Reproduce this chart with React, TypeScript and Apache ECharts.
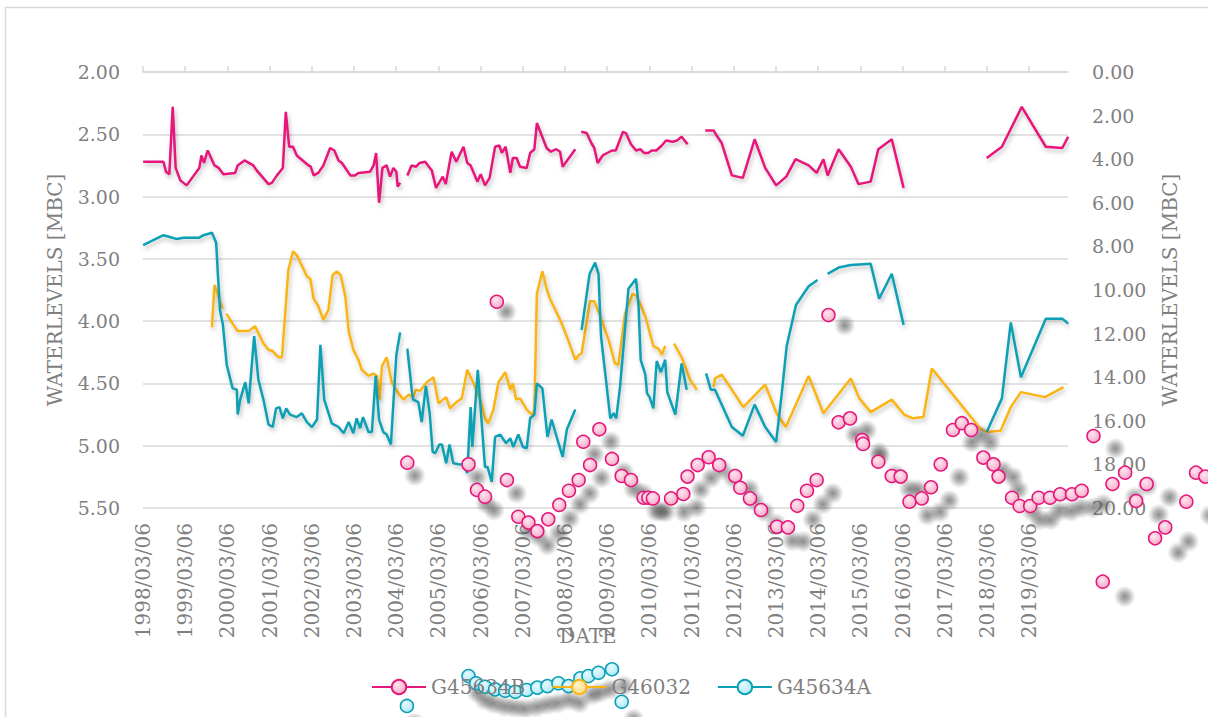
import React, { useEffect, useRef } from 'react';
import * as echarts from 'echarts';

// 1998/03/06 expressed as a decimal year; the x axis counts years from here.
const START = 1998.176;

const TICK_YEARS = [
  1998, 1999, 2000, 2001, 2002, 2003, 2004, 2005, 2006, 2007, 2008,
  2009, 2010, 2011, 2012, 2013, 2014, 2015, 2016, 2017, 2018, 2019,
];

// Water levels [m BC] per decimal year; null marks a break in the record.
const G45634B: [number, number | null][] = [
  [1998.18, 2.72], [1998.66, 2.72], [1998.72, 2.80], [1998.80, 2.82], [1998.88, 2.28], [1998.95, 2.77],
  [1999.06, 2.87], [1999.21, 2.91], [1999.51, 2.77], [1999.56, 2.67], [1999.62, 2.73], [1999.71, 2.63],
  [1999.87, 2.75], [1999.97, 2.77], [2000.08, 2.82], [2000.36, 2.81], [2000.42, 2.75], [2000.58, 2.71],
  [2000.79, 2.75], [2000.87, 2.79], [2001.15, 2.90], [2001.23, 2.89], [2001.35, 2.83], [2001.49, 2.77],
  [2001.56, 2.32], [2001.64, 2.60], [2001.73, 2.60], [2001.82, 2.67], [2002.10, 2.75], [2002.15, 2.76],
  [2002.22, 2.83], [2002.33, 2.81], [2002.45, 2.75], [2002.61, 2.61], [2002.71, 2.63], [2002.81, 2.71],
  [2002.89, 2.73], [2003.09, 2.83], [2003.20, 2.83], [2003.28, 2.81], [2003.56, 2.80], [2003.64, 2.75],
  [2003.70, 2.65], [2003.77, 3.05], [2003.85, 2.77], [2003.95, 2.75], [2004.03, 2.84], [2004.11, 2.77],
  [2004.18, 2.80], [2004.21, 2.92], [2004.27, 2.89], [2004.35, null],
  [2004.44, 2.83], [2004.54, 2.75], [2004.65, 2.76], [2004.73, 2.73], [2004.86, 2.72], [2005.02, 2.79],
  [2005.12, 2.93], [2005.28, 2.84], [2005.35, 2.90], [2005.49, 2.64], [2005.60, 2.72], [2005.77, 2.60],
  [2005.86, 2.73], [2005.94, 2.75], [2006.10, 2.88], [2006.18, 2.82], [2006.28, 2.91], [2006.39, 2.85],
  [2006.52, 2.60], [2006.62, 2.59], [2006.68, 2.65], [2006.77, 2.60], [2006.88, 2.81], [2006.94, 2.69],
  [2007.03, 2.69], [2007.11, 2.76], [2007.27, 2.77], [2007.35, 2.65], [2007.45, 2.62], [2007.51, 2.41],
  [2007.74, 2.61], [2007.84, 2.64], [2007.97, 2.62], [2008.06, 2.64], [2008.12, 2.76], [2008.42, 2.62],
  [2008.49, null],
  [2008.56, 2.48], [2008.69, 2.49], [2008.80, 2.57], [2008.87, 2.61], [2008.95, 2.73], [2009.07, 2.67],
  [2009.29, 2.63], [2009.38, 2.63], [2009.55, 2.48], [2009.62, 2.49], [2009.74, 2.58], [2009.86, 2.63],
  [2009.96, 2.62], [2010.05, 2.65], [2010.15, 2.65], [2010.23, 2.63], [2010.34, 2.63], [2010.47, 2.59],
  [2010.57, 2.55], [2010.73, 2.56], [2010.83, 2.55], [2010.94, 2.52], [2011.08, 2.58], [2011.20, null],
  [2011.50, 2.47], [2011.70, 2.47], [2011.77, 2.51], [2011.89, 2.57], [2012.13, 2.83], [2012.39, 2.85],
  [2012.67, 2.54], [2012.92, 2.77], [2013.18, 2.91], [2013.42, 2.84], [2013.64, 2.70], [2013.95, 2.75],
  [2014.14, 2.81], [2014.30, 2.70], [2014.40, 2.83], [2014.66, 2.62], [2014.95, 2.76], [2015.13, 2.90],
  [2015.42, 2.88], [2015.60, 2.62], [2015.92, 2.54], [2016.20, 2.93], [2017.00, null],
  [2018.17, 2.69], [2018.53, 2.60], [2019.00, 2.28], [2019.57, 2.60], [2019.96, 2.61], [2020.10, 2.52],
];

const G46032: [number, number | null][] = [
  [1999.81, 4.05], [1999.87, 3.71], [2000.06, 3.90], [2000.10, null],
  [2000.15, 3.94], [2000.32, 4.03], [2000.42, 4.08], [2000.68, 4.08], [2000.83, 4.04], [2001.03, 4.18],
  [2001.15, 4.23], [2001.25, 4.24], [2001.39, 4.29], [2001.47, 4.29], [2001.62, 3.59], [2001.73, 3.44],
  [2001.82, 3.47], [2002.06, 3.64], [2002.14, 3.66], [2002.22, 3.82], [2002.33, 3.88], [2002.45, 3.99],
  [2002.57, 3.91], [2002.67, 3.63], [2002.77, 3.60], [2002.86, 3.63], [2002.97, 3.80], [2003.05, 4.08],
  [2003.16, 4.23], [2003.28, 4.31], [2003.36, 4.39], [2003.52, 4.44], [2003.64, 4.42], [2003.72, 4.44],
  [2003.78, 4.63], [2003.84, 4.36], [2003.95, 4.29], [2004.07, 4.49], [2004.23, 4.58], [2004.35, 4.63],
  [2004.47, 4.59], [2004.58, 4.61], [2004.64, 4.55], [2004.74, 4.56], [2004.90, 4.49], [2005.06, 4.45],
  [2005.18, 4.66], [2005.36, 4.61], [2005.45, 4.70], [2005.57, 4.66], [2005.73, 4.62], [2005.86, 4.39],
  [2006.01, 4.50], [2006.17, 4.63], [2006.28, 4.78], [2006.36, 4.82], [2006.48, 4.71], [2006.60, 4.49],
  [2006.76, 4.41], [2006.88, 4.55], [2006.94, 4.50], [2007.02, 4.63], [2007.11, 4.62], [2007.27, 4.71],
  [2007.39, 4.75], [2007.45, 4.72], [2007.51, 3.78], [2007.64, 3.60], [2007.74, 3.74], [2007.82, 3.82],
  [2008.06, 3.99], [2008.10, 4.02], [2008.26, 4.16], [2008.42, 4.31], [2008.51, 4.27], [2008.57, 4.26],
  [2008.77, 3.84], [2008.87, 3.84], [2009.01, 3.96], [2009.21, 4.15], [2009.36, 4.34], [2009.44, 4.35],
  [2009.60, 3.94], [2009.78, 3.78], [2009.88, 3.80], [2010.08, 3.96], [2010.27, 4.20], [2010.39, 4.22],
  [2010.47, 4.27], [2010.55, 4.20], [2010.66, null],
  [2010.76, 4.18], [2010.94, 4.29], [2011.00, 4.34], [2011.14, 4.47], [2011.30, 4.55], [2011.50, null],
  [2011.70, 4.53], [2011.73, 4.46], [2011.89, 4.43], [2012.09, 4.53], [2012.40, 4.69], [2012.92, 4.51],
  [2013.19, 4.74], [2013.41, 4.85], [2013.95, 4.44], [2014.30, 4.74], [2014.95, 4.46], [2015.15, 4.62],
  [2015.42, 4.73], [2015.92, 4.63], [2016.21, 4.75], [2016.42, 4.78], [2016.67, 4.77], [2016.87, 4.38],
  [2018.01, 4.86], [2018.18, 4.89], [2018.50, 4.88], [2018.74, 4.69], [2018.98, 4.57], [2019.55, 4.61],
  [2019.99, 4.53],
];

const G45634A: [number, number | null][] = [
  [1998.18, 3.39], [1998.66, 3.31], [1998.77, 3.32], [1998.96, 3.34], [1999.14, 3.33], [1999.33, 3.33],
  [1999.51, 3.33], [1999.61, 3.31], [1999.81, 3.29], [1999.91, 3.37], [1999.95, 3.62], [2000.00, 3.91],
  [2000.07, 4.03], [2000.16, 4.35], [2000.30, 4.54], [2000.40, 4.55], [2000.42, 4.75], [2000.48, 4.63],
  [2000.60, 4.49], [2000.68, 4.66], [2000.81, 4.12], [2000.91, 4.47], [2001.03, 4.63], [2001.15, 4.83],
  [2001.25, 4.85], [2001.33, 4.70], [2001.41, 4.69], [2001.49, 4.78], [2001.57, 4.70], [2001.66, 4.75],
  [2001.82, 4.77], [2001.94, 4.74], [2002.06, 4.81], [2002.18, 4.85], [2002.30, 4.79], [2002.38, 4.19],
  [2002.47, 4.63], [2002.65, 4.82], [2002.81, 4.85], [2002.93, 4.90], [2003.05, 4.81], [2003.16, 4.90],
  [2003.24, 4.78], [2003.32, 4.86], [2003.39, 4.77], [2003.52, 4.89], [2003.60, 4.89], [2003.69, 4.44],
  [2003.77, 4.79], [2003.87, 4.89], [2003.95, 4.91], [2004.05, 4.99], [2004.18, 4.27], [2004.27, 4.09],
  [2004.35, null],
  [2004.44, 4.22], [2004.55, 4.57], [2004.58, 4.63], [2004.70, 4.65], [2004.78, 4.81], [2004.88, 4.52],
  [2004.97, 4.74], [2005.04, 5.05], [2005.10, 5.06], [2005.20, 4.99], [2005.26, 4.99], [2005.36, 5.14],
  [2005.44, 4.99], [2005.53, 5.14], [2005.69, 5.15], [2005.77, 5.15], [2005.86, 5.22], [2005.94, 4.69],
  [2005.98, 5.01], [2006.11, 4.39], [2006.28, 5.17], [2006.34, 5.17], [2006.44, 5.29], [2006.52, 4.93],
  [2006.64, 4.91], [2006.78, 4.98], [2006.88, 4.94], [2006.95, 5.01], [2007.07, 4.91], [2007.18, 5.01],
  [2007.27, 5.02], [2007.35, 4.78], [2007.45, 4.75], [2007.51, 4.50], [2007.64, 4.54], [2007.76, 4.93],
  [2007.86, 4.79], [2007.98, 4.93], [2008.12, 5.09], [2008.22, 4.87], [2008.42, 4.71], [2008.49, null],
  [2008.57, 4.07], [2008.76, 3.62], [2008.89, 3.53], [2008.97, 3.62], [2009.03, 4.12], [2009.25, 4.78],
  [2009.33, 4.74], [2009.39, 4.78], [2009.48, 4.53], [2009.68, 3.74], [2009.86, 3.66], [2009.92, 3.88],
  [2009.97, 4.31], [2010.08, 4.43], [2010.12, 4.58], [2010.18, 4.61], [2010.27, 4.70], [2010.35, 4.32],
  [2010.45, 4.41], [2010.55, 4.31], [2010.60, 4.57], [2010.79, 4.75], [2010.94, 4.34], [2011.06, 4.55],
  [2011.30, null],
  [2011.52, 4.42], [2011.63, 4.55], [2011.73, 4.55], [2012.13, 4.85], [2012.39, 4.92], [2012.67, 4.67],
  [2012.92, 4.85], [2013.18, 4.97], [2013.31, 4.59], [2013.43, 4.20], [2013.65, 3.87], [2013.95, 3.72],
  [2014.16, 3.67], [2014.28, null],
  [2014.40, 3.62], [2014.66, 3.57], [2014.95, 3.55], [2015.42, 3.54], [2015.62, 3.82], [2015.92, 3.62],
  [2016.20, 4.03], [2017.00, null],
  [2018.17, 4.89], [2018.53, 4.62], [2018.74, 4.01], [2018.98, 4.45], [2019.57, 3.98], [2019.96, 3.98],
  [2020.10, 4.02],
];

// Individual G45634B readings, right-hand scale.
const G45634B_POINTS: [number, number][] = [
  [2004.44, 17.92], [2005.89, 18.00], [2006.09, 19.17], [2006.28, 19.48], [2006.56, 10.54], [2006.80, 18.72],
  [2007.07, 20.40], [2007.31, 20.67], [2007.52, 21.06], [2007.78, 20.52], [2008.04, 19.86], [2008.27, 19.21],
  [2008.50, 18.72], [2008.61, 16.96], [2008.77, 18.03], [2008.99, 16.39], [2009.29, 17.75], [2009.52, 18.53],
  [2009.74, 18.72], [2010.04, 19.53], [2010.15, 19.53], [2010.26, 19.56], [2010.69, 19.56], [2010.98, 19.36],
  [2011.08, 18.56], [2011.32, 18.03], [2011.58, 17.67], [2011.83, 18.03], [2012.21, 18.53], [2012.33, 19.07],
  [2012.56, 19.56], [2012.82, 20.09], [2013.20, 20.86], [2013.46, 20.89], [2013.68, 19.90], [2013.91, 19.21],
  [2014.14, 18.72], [2014.42, 11.15], [2014.66, 16.07], [2014.93, 15.89], [2015.22, 16.88], [2015.24, 17.06],
  [2015.60, 17.88], [2015.92, 18.53], [2016.13, 18.56], [2016.34, 19.71], [2016.63, 19.56], [2016.85, 19.05],
  [2017.08, 18.00], [2017.37, 16.42], [2017.58, 16.11], [2017.80, 16.42], [2018.09, 17.69], [2018.33, 18.00],
  [2018.45, 18.56], [2018.77, 19.53], [2018.95, 19.91], [2019.20, 19.91], [2019.40, 19.53], [2019.67, 19.53],
  [2019.91, 19.37], [2020.19, 19.37], [2020.42, 19.21], [2020.70, 16.70], [2020.92, 23.38], [2021.15, 18.90],
  [2021.45, 18.38], [2021.71, 19.68], [2021.96, 18.90], [2022.16, 21.39], [2022.40, 20.89], [2022.90, 19.71],
  [2023.13, 18.38], [2023.35, 18.56],
];

// Individual G45634A readings, right-hand scale.
const G45634A_POINTS: [number, number][] = [
  [2004.43, 29.08], [2005.89, 27.71], [2006.07, 28.04], [2006.28, 28.20], [2006.52, 28.32], [2006.76, 28.38],
  [2007.00, 28.43], [2007.27, 28.35], [2007.52, 28.24], [2007.76, 28.17], [2008.02, 28.04], [2008.26, 28.17],
  [2008.54, 27.81], [2008.73, 27.71], [2008.97, 27.56], [2009.29, 27.40], [2009.52, 28.89],
];

const PINK = '#e6177a';
const GOLD = '#fbb412';
const TEAL = '#0c9fb4';
const TEXT = '#7f7f7f';
const GRID = '#d9d9d9';
const FONT = 'DejaVu Serif';

const toXY = (pts: [number, number | null][]) =>
  pts.map(([yr, v]) => [yr - START, v === null ? '-' : v]);

const toPoints = (pts: [number, number][]) => pts.map(([yr, v]) => [yr - START, v]);

// Soft blurred drop shadows that drift further right/down across the plot.
const toShadows = (pts: [number, number][]) =>
  pts.map(([yr, v]) => {
    const t = yr - START;
    return { value: [t, v], symbolOffset: [2 + 0.88 * t, 5.9 + 0.39 * v] };
  });

const radial = (inner: string, outer: string) =>
  new echarts.graphic.RadialGradient(0.4, 0.35, 0.75, [
    { offset: 0, color: inner },
    { offset: 1, color: outer },
  ]);

const shadowFill = new echarts.graphic.RadialGradient(0.5, 0.5, 0.5, [
  { offset: 0, color: 'rgba(70,70,70,0.62)' },
  { offset: 0.45, color: 'rgba(90,90,90,0.42)' },
  { offset: 1, color: 'rgba(120,120,120,0)' },
]);

const lineShadow = {
  shadowColor: 'rgba(0,0,0,0.25)',
  shadowBlur: 4,
  shadowOffsetX: 1.5,
  shadowOffsetY: 3,
};

export default function App() {
  const ref = useRef<HTMLDivElement>(null);

  useEffect(() => {
    const chart = echarts.init(ref.current!, null, { renderer: 'svg' });
    const tickIdx = TICK_YEARS.map((y) => y - 1998);

    const pinkFill = radial('#fde6ef', '#f6a3c5');
    const goldFill = radial('#fff4cf', '#fcd978');
    const tealFill = radial('#e6fafe', '#a9e6f6');

    const markerSeries = (name: string, pts: [number, number][], fill: any, border: string) => [
      {
        name,
        type: 'scatter',
        yAxisIndex: 1,
        clip: false,
        symbol: 'circle',
        symbolSize: 22,
        data: toShadows(pts),
        itemStyle: { color: shadowFill, opacity: 1 },
        silent: true,
        z: 3,
      },
      {
        name,
        type: 'scatter',
        yAxisIndex: 1,
        clip: false,
        symbol: 'circle',
        symbolSize: 13,
        data: toPoints(pts),
        itemStyle: { color: fill, borderColor: border, borderWidth: 1.5, opacity: 1 },
        z: 4,
      },
    ];

    chart.setOption({
      animation: false,
      backgroundColor: '#ffffff',
      textStyle: { fontFamily: FONT },
      grid: {
        left: 143,
        top: 72,
        width: 925,
        height: 436,
        containLabel: false,
        outerBoundsMode: 'none',
      },
      legend: {
        data: ['G45634B', 'G46032', 'G45634A'],
        left: 366,
        top: 672,
        itemWidth: 54,
        itemHeight: 18,
        itemGap: 26,
        z: 5,
        textStyle: { fontFamily: FONT, fontSize: 20, color: TEXT },
      },
      xAxis: [
        {
          type: 'value',
          position: 'bottom',
          min: 0,
          max: 21.92,
          interval: 1,
          axisLine: { show: false },
          axisTick: { show: false },
          splitLine: { show: false },
          axisLabel: {
            customValues: tickIdx,
            rotate: 90,
            margin: 15,
            fontFamily: FONT,
            fontSize: 20,
            color: TEXT,
            formatter: (v: number) =>
              Number.isInteger(v) ? `${1998 + v}/03/06` : '',
          },
        },
        {
          type: 'value',
          position: 'top',
          min: 0,
          max: 21.92,
          interval: 1,
          axisLine: { show: true, lineStyle: { color: GRID, width: 1.5 } },
          axisTick: {
            show: true,
            customValues: tickIdx,
            length: 6,
            lineStyle: { color: GRID, width: 1.5 },
          },
          axisLabel: { show: false },
          splitLine: { show: false },
        },
      ],
      yAxis: [
        {
          type: 'value',
          inverse: true,
          min: 2,
          max: 5.5,
          interval: 0.5,
          name: 'WATERLEVELS [MBC]',
          nameLocation: 'middle',
          nameGap: 78,
          nameTextStyle: { fontFamily: FONT, fontSize: 20, color: TEXT },
          axisLine: { show: false },
          axisTick: { show: false },
          splitLine: { lineStyle: { color: GRID, width: 1.5 } },
          axisLabel: {
            margin: 23,
            fontFamily: FONT,
            fontSize: 19,
            color: TEXT,
            formatter: (v: number) => v.toFixed(2),
          },
        },
        {
          type: 'value',
          inverse: true,
          position: 'right',
          min: 0,
          max: 20,
          interval: 2,
          name: 'WATERLEVELS [MBC]',
          nameLocation: 'middle',
          nameGap: 92,
          nameTextStyle: { fontFamily: FONT, fontSize: 20, color: TEXT },
          axisLine: { show: false },
          axisTick: { show: false },
          splitLine: { show: false },
          axisLabel: {
            margin: 24,
            fontFamily: FONT,
            fontSize: 19,
            color: TEXT,
            formatter: (v: number) => v.toFixed(2),
          },
        },
      ],
      graphic: [
        {
          type: 'rect',
          shape: { x: 5.5, y: 7.5, width: 1400, height: 900 },
          style: { fill: 'none', stroke: GRID, lineWidth: 1.5 },
          silent: true,
        },
        {
          type: 'text',
          x: 588,
          y: 636,
          style: {
            text: 'DATE',
            fill: TEXT,
            fontFamily: FONT,
            fontSize: 20,
            align: 'center',
            verticalAlign: 'middle',
          },
          silent: true,
        },
      ],
      series: [
        {
          name: 'G45634B',
          type: 'line',
          data: toXY(G45634B),
          symbol: 'circle',
          showSymbol: false,
          connectNulls: false,
          lineStyle: { color: PINK, width: 2.5, ...lineShadow },
          itemStyle: { color: pinkFill, borderColor: PINK, borderWidth: 1.5 },
          z: 2,
        },
        {
          name: 'G46032',
          type: 'line',
          data: toXY(G46032),
          symbol: 'circle',
          showSymbol: false,
          connectNulls: false,
          lineStyle: { color: GOLD, width: 2.5, ...lineShadow },
          itemStyle: { color: goldFill, borderColor: GOLD, borderWidth: 1.5 },
          z: 2,
        },
        {
          name: 'G45634A',
          type: 'line',
          data: toXY(G45634A),
          symbol: 'circle',
          showSymbol: false,
          connectNulls: false,
          lineStyle: { color: TEAL, width: 2.5, ...lineShadow },
          itemStyle: { color: tealFill, borderColor: TEAL, borderWidth: 1.5 },
          z: 2,
        },
        ...markerSeries('G45634B', G45634B_POINTS, pinkFill, PINK),
        ...markerSeries('G45634A', G45634A_POINTS, tealFill, TEAL),
      ],
    });

    return () => chart.dispose();
  }, []);

  return (
    <div
      ref={ref}
      style={{ position: 'absolute', left: 0, top: 0, width: 1208, height: 717 }}
    />
  );
}
